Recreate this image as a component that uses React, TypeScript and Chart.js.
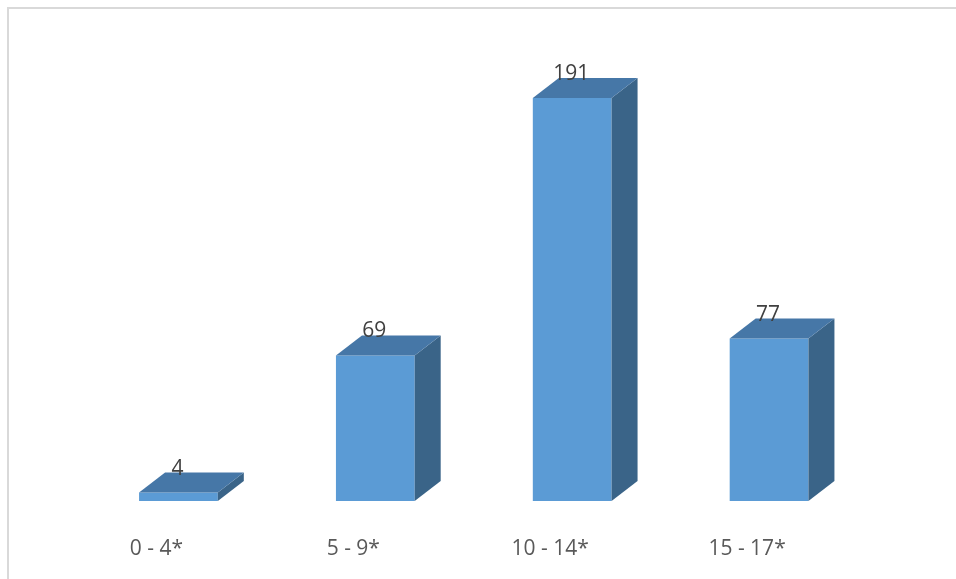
import React, { useEffect, useRef } from "react";
import { Chart, registerables } from "chart.js";

Chart.register(...registerables);

const categories = ["0 - 4*", "5 - 9*", "10 - 14*", "15 - 17*"];
const values = [4, 69, 191, 77];
const yMax = 200;

const FRONT = "#5B9BD5";
const TOP = "#4677A7";
const SIDE = "#3A6488";
const DX = 26;
const DY = 20;

const threeD = {
  id: "threeD",
  afterDatasetsDraw(chart: any) {
    const ctx = chart.ctx;
    const meta = chart.getDatasetMeta(0);
    ctx.save();
    meta.data.forEach((bar: any) => {
      const { x, y, base, width } = bar.getProps(["x", "y", "base", "width"], true);
      const l = x - width / 2;
      const r = x + width / 2;
      // side face
      ctx.fillStyle = SIDE;
      ctx.beginPath();
      ctx.moveTo(r, y);
      ctx.lineTo(r + DX, y - DY);
      ctx.lineTo(r + DX, base - DY);
      ctx.lineTo(r, base);
      ctx.closePath();
      ctx.fill();
      // top face
      ctx.fillStyle = TOP;
      ctx.beginPath();
      ctx.moveTo(l, y);
      ctx.lineTo(l + DX, y - DY);
      ctx.lineTo(r + DX, y - DY);
      ctx.lineTo(r, y);
      ctx.closePath();
      ctx.fill();
    });
    // data labels
    ctx.fillStyle = "#404040";
    ctx.font = "21px 'Open Sans'";
    ctx.textAlign = "center";
    ctx.textBaseline = "alphabetic";
    const ys = chart.scales.y;
    const xs = chart.scales.x;
    values.forEach((v, i) => {
      ctx.fillText(String(v), xs.getPixelForValue(i) - 1, ys.getPixelForValue(v) - 18);
    });
    ctx.restore();
  },
  afterDraw(chart: any) {
    const ctx = chart.ctx;
    ctx.save();
    ctx.strokeStyle = "#D9D9D9";
    ctx.lineWidth = 2;
    ctx.beginPath();
    ctx.moveTo(8, 579);
    ctx.lineTo(8, 8);
    ctx.lineTo(956, 8);
    ctx.stroke();
    ctx.restore();
  },
};

export default function App() {
  const ref = useRef<HTMLCanvasElement>(null);
  useEffect(() => {
    if (!ref.current) return;
    const chart = new Chart(ref.current, {
      type: "bar",
      data: {
        labels: categories,
        datasets: [
          {
            data: values,
            backgroundColor: FRONT,
            borderWidth: 0,
            categoryPercentage: 1,
            barPercentage: 0.4,
          },
        ],
      },
      options: {
        animation: false,
        responsive: false,
        layout: { padding: { left: 80, right: 88.5, top: 79, bottom: 18 } },
        plugins: { legend: { display: false }, tooltip: { enabled: false } },
        scales: {
          x: {
            grid: { display: false, drawTicks: false },
            border: { display: false },
            afterFit(scale: any) {
              scale.height = 60;
            },
            ticks: {
              color: "#595959",
              font: { family: "'Open Sans'", size: 21 },
              padding: 35,
              labelOffset: -22,
              maxRotation: 0,
            },
          },
          y: { display: false, min: 0, max: yMax },
        },
      },
      plugins: [threeD],
    });
    return () => chart.destroy();
  }, []);
  return (
    <div style={{ position: "absolute", left: 0, top: 0, width: 956, height: 579, background: "#fff" }}>
      <canvas ref={ref} width={956} height={579} style={{ display: "block" }} />
    </div>
  );
}
